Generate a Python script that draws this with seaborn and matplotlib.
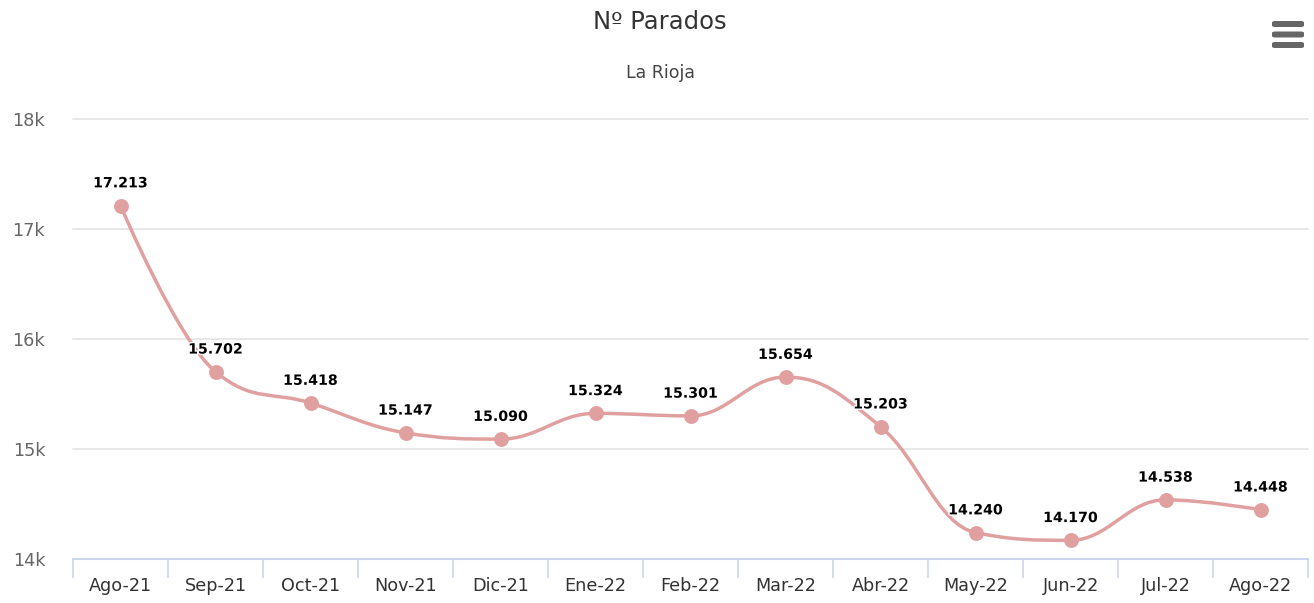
import numpy as np
import pandas as pd
import seaborn as sns
import matplotlib.pyplot as plt
from matplotlib.path import Path
from matplotlib.patches import PathPatch, FancyBboxPatch
import matplotlib.patheffects as pe

# Data
meses = ["Ago-21", "Sep-21", "Oct-21", "Nov-21", "Dic-21", "Ene-22", "Feb-22",
         "Mar-22", "Abr-22", "May-22", "Jun-22", "Jul-22", "Ago-22"]
parados = [17213, 15702, 15418, 15147, 15090, 15324, 15301,
           15654, 15203, 14240, 14170, 14538, 14448]
etiquetas = ["17.213", "15.702", "15.418", "15.147", "15.090", "15.324", "15.301",
             "15.654", "15.203", "14.240", "14.170", "14.538", "14.448"]
y_ticks = [14000, 15000, 16000, 17000, 18000]
y_labels = ["14k", "15k", "16k", "17k", "18k"]

df = pd.DataFrame({"mes": meses, "pos": range(len(meses)), "parados": parados})

sns.set_style("white")
plt.rcParams["font.family"] = ["DejaVu Sans"]

color = "#e0a0a0"

fig = plt.figure(figsize=(13.14, 6.03), dpi=100)
ax = fig.add_axes([73 / 1314, 44 / 603, 1235 / 1314, 440 / 603])


def spline_path(xs, ys, smoothing=1.5):
    # highcharts-like spline: bezier control points from neighbouring points
    n = len(xs)
    denom = smoothing + 1
    left = [(xs[i], ys[i]) for i in range(n)]
    right = [(xs[i], ys[i]) for i in range(n)]
    for i in range(1, n - 1):
        px, py = xs[i], ys[i]
        lx, ly = xs[i - 1], ys[i - 1]
        nx, ny = xs[i + 1], ys[i + 1]
        lcx = (smoothing * px + lx) / denom
        lcy = (smoothing * py + ly) / denom
        rcx = (smoothing * px + nx) / denom
        rcy = (smoothing * py + ny) / denom
        if rcx != lcx:
            corr = (rcy - lcy) * (rcx - px) / (rcx - lcx) + py - rcy
            lcy += corr
            rcy += corr
        if lcy > max(ly, py):
            lcy = max(ly, py)
            rcy = 2 * py - lcy
        elif lcy < min(ly, py):
            lcy = min(ly, py)
            rcy = 2 * py - lcy
        if rcy > max(py, ny):
            rcy = max(py, ny)
            lcy = 2 * py - rcy
        elif rcy < min(py, ny):
            rcy = min(py, ny)
            lcy = 2 * py - rcy
        left[i] = (lcx, lcy)
        right[i] = (rcx, rcy)
    verts = [(xs[0], ys[0])]
    codes = [Path.MOVETO]
    for i in range(1, n):
        verts += [right[i - 1], left[i], (xs[i], ys[i])]
        codes += [Path.CURVE4] * 3
    return Path(verts, codes)


path = spline_path(list(df["pos"]), list(df["parados"]))
ax.add_patch(PathPatch(path, facecolor="none", edgecolor=color, lw=2.5,
                       capstyle="round", joinstyle="round", zorder=3))

sns.scatterplot(data=df, x="pos", y="parados", ax=ax, color=color, s=115,
                edgecolor=color, linewidth=0, zorder=4, legend=False)

for x, y, t in zip(df["pos"], df["parados"], etiquetas):
    ax.annotate(t, (x, y), xytext=(0, 16), textcoords="offset points",
                ha="center", va="center", fontsize=10.2, fontweight="bold",
                color="black", zorder=5,
                path_effects=[pe.withStroke(linewidth=2, foreground="white")])

ax.set_xlim(-0.5, len(meses) - 0.5)
ax.set_ylim(14000, 18000)
for yv in y_ticks[1:]:
    ax.axhline(yv, color="#e6e6e6", lw=1.3, zorder=1, clip_on=False)
ax.set_yticks(y_ticks)
ax.set_yticklabels(y_labels)
ax.tick_params(axis="y", length=0, pad=20, labelsize=12.7, labelcolor="#666666")

ax.set_xticks(range(len(meses)))
ax.set_xticklabels(meses)
ax.set_xticks(np.arange(-0.5, len(meses), 1), minor=True)
ax.tick_params(axis="x", which="major", bottom=True, length=0, pad=13,
               labelsize=12.7, labelcolor="#333333")
ax.tick_params(axis="x", which="minor", bottom=True, length=14, width=1.2,
               color="#ccd6eb", direction="out")
ax.set_xlabel("")
ax.set_ylabel("")

for s in ["top", "right", "left"]:
    ax.spines[s].set_visible(False)
ax.spines["bottom"].set_color("#ccd6eb")
ax.spines["bottom"].set_linewidth(1.5)
ax.spines["bottom"].set_zorder(2)

fig.text(660 / 1314, 1 - 22 / 603, "Nº Parados", ha="center", va="center",
         fontsize=17.5, color="#333333")
fig.text(660 / 1314, 1 - 73 / 603, "La Rioja", ha="center", va="center",
         fontsize=12.5, color="#444444")

# hamburger menu icon
for yy in [24, 34.5, 45]:
    fig.add_artist(FancyBboxPatch((1272 / 1314, 1 - (yy + 3) / 603), 32 / 1314,
                                  6 / 603, boxstyle="round,pad=0,rounding_size=0.0025",
                                  transform=fig.transFigure, facecolor="#666666",
                                  edgecolor="none"))

fig.savefig("out.png", dpi=100, facecolor="white")
